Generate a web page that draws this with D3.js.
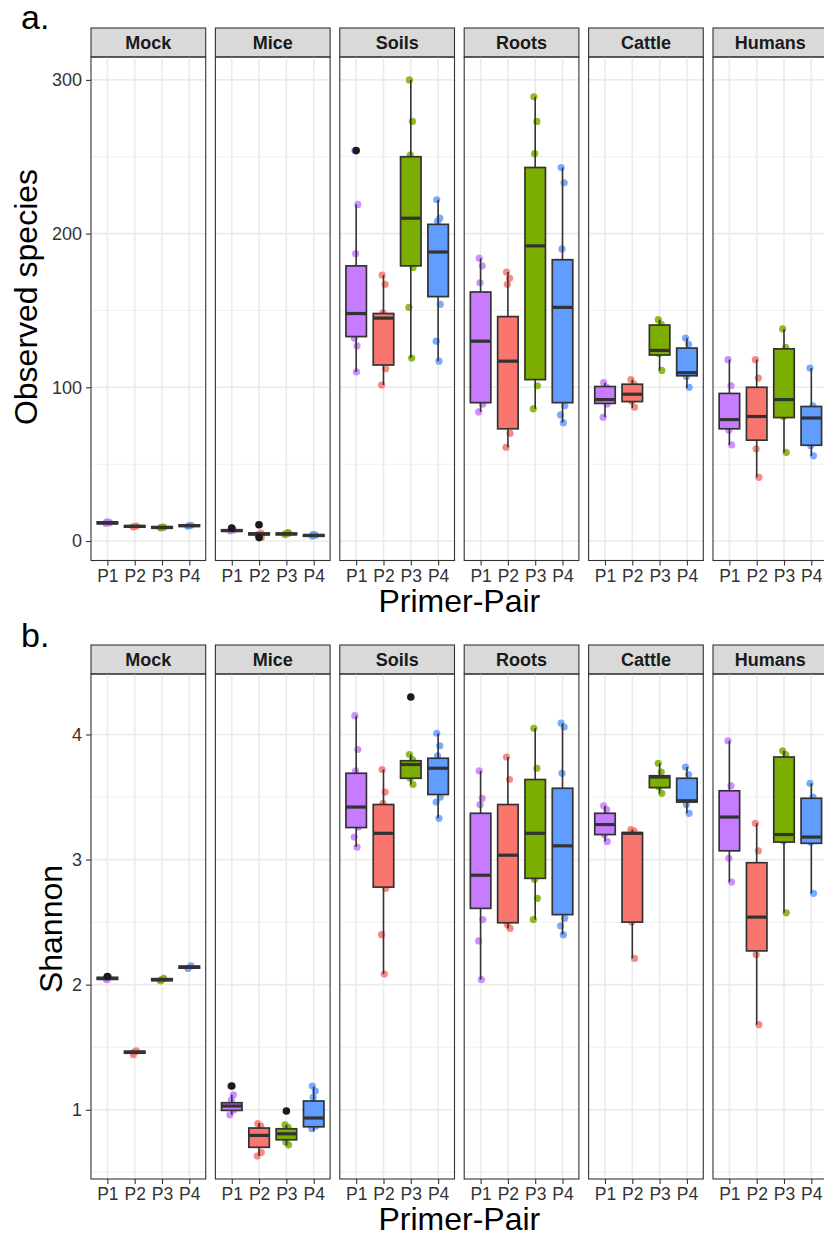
<!DOCTYPE html>
<html>
<head>
<meta charset="utf-8">
<script src="https://cdn.jsdelivr.net/npm/d3@7"></script>
<style>
  body { margin: 0; background: #fff; }
  text { font-family: "Liberation Sans", Arial, sans-serif; }
</style>
</head>
<body>
<svg id="chart" width="824" height="1233"></svg>
<script>
const facets = ["Mock", "Mice", "Soils", "Roots", "Cattle", "Humans"];
const primers = ["P1", "P2", "P3", "P4"];
const primerColors = ["#C77CFF", "#F8766D", "#7CAE00", "#619CFF"];

// box stats per facet x primer: [lower whisker, q1, median, q3, upper whisker]
const observedBoxes = [
  [[11.0, 11.2, 11.8, 12.4, 12.6], [8.9, 9.0, 9.5, 10.0, 10.1], [8.2, 8.3, 8.8, 9.3, 9.4], [9.4, 9.5, 10.0, 10.5, 10.6]],
  [[6.0, 6.3, 6.8, 7.3, 7.6], [3.5, 4.0, 4.6, 5.2, 5.6], [3.8, 4.1, 4.6, 5.1, 5.4], [3.0, 3.1, 3.6, 4.1, 4.2]],
  [[110, 133, 148, 179, 219], [101.5, 114.5, 145, 148, 173], [119, 179, 210, 250, 300], [117, 159, 188, 206, 222]],
  [[84, 90, 130, 162, 184], [61, 73, 117, 146, 175], [86, 105, 192, 243, 289], [77, 90, 152, 183, 243]],
  [[80.5, 89.5, 92, 100.5, 103], [86.6, 90.7, 95.5, 102, 105], [111, 121, 124, 140.5, 144], [99.5, 107.5, 109.5, 125.5, 132]],
  [[62.5, 73, 79, 96, 118], [41.4, 65.6, 81, 100, 118], [57.6, 80.3, 92, 125, 138], [55.4, 62.3, 80, 87.5, 112.5]]
];
const observedPoints = [
  [[11.4, 12.1, 12.4, 11.8], [9.1, 9.7, 9.4], [8.5, 9.0, 8.8], [9.6, 10.2, 9.9]],
  [[6.5, 7.2, 8.4], [4.0, 5.2, 10.6, 2.2], [4.2, 5.5, 4.8, 5.0], [3.2, 3.8, 4.4]],
  [[254, 219, 187, 148, 132, 127, 110], [173, 167, 148.5, 112, 101.5], [300, 273, 251, 178, 152, 119], [222, 210, 208, 154, 130, 117]],
  [[184, 179, 168, 89, 84], [175, 171, 167, 70, 61], [289, 273, 252, 101, 86], [243, 233, 190, 88, 82, 77]],
  [[103, 100, 92, 89, 80.5], [105, 102, 91, 87], [144, 141, 122, 111], [132, 128, 107, 100]],
  [[118, 101, 72, 62.5], [118, 106, 60, 41.4], [138, 126, 81, 57.6], [112.5, 88, 62, 55.4]]
];
const observedOutliers = [
  [[], [], [], []],
  [[8.4], [10.6, 2.2], [], []],
  [[254], [], [], []],
  [[], [], [], []],
  [[], [], [], []],
  [[], [], [], []]
];

const shannonBoxes = [
  [[2.04, 2.042, 2.05, 2.058, 2.06], [1.45, 1.452, 1.46, 1.468, 1.47], [2.03, 2.032, 2.04, 2.048, 2.05], [2.13, 2.132, 2.14, 2.148, 2.15]],
  [[0.96, 0.995, 1.03, 1.056, 1.12], [0.63, 0.70, 0.795, 0.854, 0.894], [0.715, 0.76, 0.808, 0.848, 0.88], [0.827, 0.864, 0.934, 1.07, 1.186]],
  [[3.10, 3.256, 3.42, 3.69, 4.15], [2.085, 2.78, 3.21, 3.44, 3.72], [3.60, 3.65, 3.76, 3.79, 3.84], [3.33, 3.52, 3.73, 3.81, 4.01]],
  [[2.04, 2.61, 2.875, 3.37, 3.71], [2.45, 2.495, 3.035, 3.44, 3.82], [2.52, 2.85, 3.21, 3.64, 4.05], [2.40, 2.56, 3.11, 3.57, 4.09]],
  [[3.145, 3.20, 3.28, 3.37, 3.43], [2.21, 2.50, 3.21, 3.215, 3.24], [3.53, 3.575, 3.66, 3.67, 3.77], [3.37, 3.46, 3.47, 3.65, 3.74]],
  [[2.82, 3.07, 3.34, 3.55, 3.95], [1.68, 2.27, 2.54, 2.975, 3.29], [2.575, 3.14, 3.20, 3.82, 3.87], [2.73, 3.13, 3.18, 3.49, 3.61]]
];
const shannonPoints = [
  [[2.05, 2.06, 2.04], [1.44, 1.47, 1.46], [2.03, 2.05, 2.04], [2.13, 2.15]],
  [[1.19, 1.12, 1.08, 1.0, 0.96], [0.89, 0.87, 0.72, 0.66, 0.63], [0.88, 0.86, 0.74, 0.72], [1.19, 1.15, 1.10, 0.87, 0.85]],
  [[4.15, 3.88, 3.71, 3.26, 3.18, 3.10], [3.72, 3.54, 3.45, 2.77, 2.40, 2.085], [3.84, 3.80, 3.65, 3.60], [4.01, 3.91, 3.83, 3.50, 3.46, 3.33]],
  [[3.71, 3.49, 3.44, 2.52, 2.35, 2.04], [3.82, 3.64, 2.48, 2.45], [4.05, 3.73, 2.84, 2.69, 2.52], [4.09, 4.06, 3.69, 2.53, 2.47, 2.40]],
  [[3.43, 3.40, 3.20, 3.145], [3.24, 3.23, 2.50, 2.21], [3.77, 3.70, 3.58, 3.53], [3.74, 3.68, 3.44, 3.37]],
  [[3.95, 3.59, 3.01, 2.82], [3.29, 3.07, 2.24, 1.68], [3.87, 3.84, 3.15, 2.575], [3.61, 3.50, 3.14, 2.73]]
];
const shannonOutliers = [
  [[2.065], [], [], []],
  [[1.19], [], [0.99], []],
  [[], [], [4.30], []],
  [[], [], [], []],
  [[], [], [], []],
  [[], [], [], []]
];

const observedTicks = [0, 100, 200, 300];
const observedMinor = [50, 150, 250];
const shannonTicks = [1, 2, 3, 4];
const shannonMinor = [0.5, 1.5, 2.5, 3.5];

// small fixed jitter pattern (category units)
const jitter = [-0.05, 0.06, -0.02, 0.08, -0.07, 0.03, 0.01];

const svg = d3.select("#chart");
const panelLeft = 91;
const panelStep = 124.4;
const panelW = 114.7;
const ink = "#333333";

function drawPlot(opt) {
  const all = [];
  opt.boxes.forEach((f) => f.forEach((b) => all.push(...b)));
  opt.points.forEach((f) => f.forEach((p) => all.push(...p)));
  opt.outliers.forEach((f) => f.forEach((p) => all.push(...p)));
  const [lo, hi] = d3.extent(all);
  const pad = (hi - lo) * 0.05;

  const y = d3
    .scaleLinear()
    .domain([lo - pad, hi + pad])
    .range([opt.bottom, opt.top]);

  const x = d3
    .scalePoint()
    .domain(primers)
    .range([0, panelW])
    .padding(0.6);
  const step = x.step();

  const g = svg.append("g");

  // tag
  g.append("text")
    .attr("x", 21)
    .attr("y", opt.tagY)
    .attr("font-size", 34)
    .attr("fill", "#000")
    .text(opt.tag);

  facets.forEach((facet, fi) => {
    const px = panelLeft + fi * panelStep;
    const pg = g.append("g").attr("transform", `translate(${px},0)`);

    // strip
    pg.append("rect")
      .attr("x", 0)
      .attr("y", opt.stripTop)
      .attr("width", panelW)
      .attr("height", opt.top - opt.stripTop)
      .attr("fill", "#D9D9D9")
      .attr("stroke", ink)
      .attr("stroke-width", 1.1);
    pg.append("text")
      .attr("x", panelW / 2)
      .attr("y", opt.stripTop + 20.5)
      .attr("text-anchor", "middle")
      .attr("font-size", 18)
      .attr("font-weight", "bold")
      .attr("fill", "#1A1A1A")
      .text(facet);

    // grid
    pg.selectAll(".minor")
      .data(opt.minor)
      .enter()
      .append("line")
      .attr("x1", 0)
      .attr("x2", panelW)
      .attr("y1", (d) => y(d))
      .attr("y2", (d) => y(d))
      .attr("stroke", "#EBEBEB")
      .attr("stroke-width", 0.8);
    pg.selectAll(".major")
      .data(opt.ticks)
      .enter()
      .append("line")
      .attr("x1", 0)
      .attr("x2", panelW)
      .attr("y1", (d) => y(d))
      .attr("y2", (d) => y(d))
      .attr("stroke", "#EBEBEB")
      .attr("stroke-width", 1.6);
    pg.selectAll(".xgrid")
      .data(primers)
      .enter()
      .append("line")
      .attr("x1", (d) => x(d))
      .attr("x2", (d) => x(d))
      .attr("y1", opt.top)
      .attr("y2", opt.bottom)
      .attr("stroke", "#EBEBEB")
      .attr("stroke-width", 1.6);

    // jittered points (under the boxes)
    primers.forEach((p, pi) => {
      pg.selectAll(null)
        .data(opt.points[fi][pi])
        .enter()
        .append("circle")
        .attr("cx", (d, i) => x(p) + jitter[i % jitter.length] * step)
        .attr("cy", (d) => y(d))
        .attr("r", 3.6)
        .attr("fill", primerColors[pi])
        .attr("fill-opacity", 0.85);
    });

    // boxes
    const bw = step * 0.75;
    primers.forEach((p, pi) => {
      const [wl, q1, med, q3, wh] = opt.boxes[fi][pi];
      const cx = x(p);
      pg.append("line")
        .attr("x1", cx).attr("x2", cx)
        .attr("y1", y(wh)).attr("y2", y(q3))
        .attr("stroke", ink).attr("stroke-width", 1.6);
      pg.append("line")
        .attr("x1", cx).attr("x2", cx)
        .attr("y1", y(q1)).attr("y2", y(wl))
        .attr("stroke", ink).attr("stroke-width", 1.6);
      pg.append("rect")
        .attr("x", cx - bw / 2)
        .attr("y", y(q3))
        .attr("width", bw)
        .attr("height", Math.max(0.5, y(q1) - y(q3)))
        .attr("fill", primerColors[pi])
        .attr("stroke", ink)
        .attr("stroke-width", 1.7);
      pg.append("line")
        .attr("x1", cx - bw / 2).attr("x2", cx + bw / 2)
        .attr("y1", y(med)).attr("y2", y(med))
        .attr("stroke", ink).attr("stroke-width", 3.2);
      pg.selectAll(null)
        .data(opt.outliers[fi][pi])
        .enter()
        .append("circle")
        .attr("cx", cx)
        .attr("cy", (d) => y(d))
        .attr("r", 3.8)
        .attr("fill", "#1A1A1A");
    });

    // panel border
    pg.append("rect")
      .attr("x", 0)
      .attr("y", opt.top)
      .attr("width", panelW)
      .attr("height", opt.bottom - opt.top)
      .attr("fill", "none")
      .attr("stroke", ink)
      .attr("stroke-width", 1.1);

    // x axis
    const xa = pg
      .append("g")
      .attr("transform", `translate(0,${opt.bottom})`)
      .call(d3.axisBottom(x).tickSize(5).tickPadding(4));
    xa.select(".domain").remove();
    xa.selectAll("line").attr("stroke", ink).attr("stroke-width", 1.1);
    xa.selectAll("text")
      .attr("font-size", 17.5)
      .attr("font-family", "Liberation Sans, Arial, sans-serif")
      .attr("fill", "#333");
  });

  // y axis
  const ya = g
    .append("g")
    .attr("transform", `translate(${panelLeft},0)`)
    .call(d3.axisLeft(y).tickValues(opt.ticks).tickSize(5).tickPadding(4).tickFormat(d3.format("d")));
  ya.select(".domain").remove();
  ya.selectAll("line").attr("stroke", ink).attr("stroke-width", 1.1);
  ya.selectAll("text")
    .attr("font-size", 18)
    .attr("font-family", "Liberation Sans, Arial, sans-serif")
    .attr("fill", "#333");

  // axis titles
  g.append("text")
    .attr("transform", `translate(${opt.yTitleX},${opt.yTitleY}) rotate(-90)`)
    .attr("text-anchor", "middle")
    .attr("font-size", 32)
    .attr("fill", "#000")
    .text(opt.yTitle);
  g.append("text")
    .attr("x", panelLeft + (facets.length * panelStep - (panelStep - panelW)) / 2)
    .attr("y", opt.bottom + 51)
    .attr("text-anchor", "middle")
    .attr("font-size", 32)
    .attr("fill", "#000")
    .text("Primer-Pair");
}

drawPlot({
  tag: "a.",
  tagY: 29,
  stripTop: 28,
  top: 57,
  bottom: 560.5,
  boxes: observedBoxes,
  points: observedPoints,
  outliers: observedOutliers,
  ticks: observedTicks,
  minor: observedMinor,
  yTitle: "Observed species",
  yTitleX: 37,
  yTitleY: 297,
});

drawPlot({
  tag: "b.",
  tagY: 647,
  stripTop: 645,
  top: 674,
  bottom: 1179,
  boxes: shannonBoxes,
  points: shannonPoints,
  outliers: shannonOutliers,
  ticks: shannonTicks,
  minor: shannonMinor,
  yTitle: "Shannon",
  yTitleX: 62,
  yTitleY: 929,
});
</script>
</body>
</html>
